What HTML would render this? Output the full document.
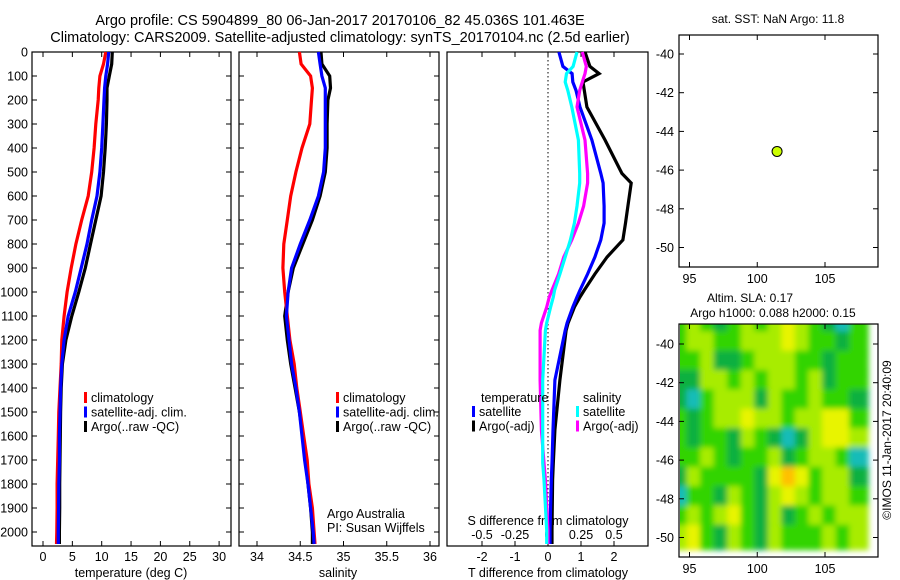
<!DOCTYPE html>
<html><head><meta charset="utf-8"><style>
body{margin:0;background:#fff;}
svg{display:block;font-family:"Liberation Sans",sans-serif;}
</style></head><body>
<svg id="chart" width="900" height="580" viewBox="0 0 900 580">
<text x="340" y="25" font-size="14.5" text-anchor="middle">Argo profile: CS 5904899_80 06-Jan-2017 20170106_82 45.036S 101.463E</text>
<text x="340" y="42" font-size="14.5" text-anchor="middle">Climatology: CARS2009. Satellite-adjusted climatology: synTS_20170104.nc (2.5d earlier)</text>
<g id="g"></g>
</svg>
<script>
// ---------- data ----------
const depthT=[0,50,100,150,200,300,400,500,600,700,800,900,1000,1100,1200,1300,1400,1500,1600,1700,1800,1900,2000,2050];
const tempClim=[10.7,10.3,9.7,9.5,9.4,9.0,8.7,8.3,7.7,6.6,5.6,4.8,4.1,3.6,3.2,3.1,2.9,2.7,2.6,2.5,2.4,2.4,2.35,2.3];
const tempSat=[11.2,11.0,10.7,10.5,10.4,10.2,10.0,9.7,9.2,8.3,7.5,6.5,5.5,4.3,3.6,3.2,3.0,2.9,2.8,2.8,2.7,2.65,2.6,2.6];
const tempArgo=[11.8,11.7,11.3,10.9,10.9,10.8,10.6,10.3,9.9,9.0,8.1,7.2,6.1,4.9,3.9,3.3,3.1,3.0,2.95,2.9,2.85,2.85,2.8,2.8];
const salClim=[34.49,34.51,34.62,34.64,34.63,34.61,34.52,34.45,34.39,34.35,34.31,34.30,34.32,34.35,34.38,34.43,34.46,34.5,34.54,34.58,34.6,34.64,34.66,34.67];
const salSat=[34.71,34.73,34.75,34.79,34.79,34.79,34.79,34.77,34.71,34.61,34.5,34.4,34.36,34.34,34.37,34.4,34.45,34.49,34.52,34.55,34.59,34.62,34.65,34.66];
const salArgo=[34.74,34.75,34.84,34.85,34.82,34.81,34.81,34.79,34.73,34.64,34.53,34.42,34.36,34.32,34.35,34.39,34.44,34.49,34.53,34.56,34.59,34.62,34.64,34.64];
const depthD=[0,60,90,125,160,229,367,506,546,642,713,783,854,925,992,1021,1063,1129,1160,1367,1575,1713,1783,1992,2050];
const dTsat=[0.33,0.45,0.73,0.75,0.85,0.97,1.33,1.6,1.67,1.7,1.7,1.6,1.42,1.2,0.97,0.88,0.75,0.58,0.52,0.21,0.15,0.12,0.1,0.06,0.06];
const dTargo=[1.12,1.27,1.55,1.06,1.1,1.18,1.73,2.24,2.52,2.42,2.35,2.27,1.79,1.42,1.1,0.97,0.8,0.61,0.55,0.36,0.21,0.16,0.14,0.12,0.12];
const dSsat=[0.22,0.19,0.14,0.13,0.15,0.18,0.23,0.24,0.24,0.22,0.2,0.17,0.13,0.09,0.05,0.04,0.02,-0.01,-0.02,-0.04,-0.04,-0.04,-0.03,-0.01,-0.01];
const dSargo=[0.26,0.29,0.28,0.26,0.24,0.22,0.28,0.3,0.3,0.27,0.23,0.18,0.12,0.08,0.03,0.01,-0.01,-0.05,-0.06,-0.06,-0.05,-0.03,-0.02,0,0];
const tempTicks=[0,5,10,15,20,25,30];
const salTicks=[34,34.5,35,35.5,36];
const tDiffTicks=[-2,-1,0,1,2];
const sDiffTicks=[-0.5,-0.25,0,0.25,0.5];
const depthTicks=[0,100,200,300,400,500,600,700,800,900,1000,1100,1200,1300,1400,1500,1600,1700,1800,1900,2000];
const latTicks=[-40,-42,-44,-46,-48,-50];
const lonTicks=[95,100,105];
const argoLon=101.463, argoLat=-45.036;
const slaGrid=[
[2,3,2,1,2,3,2,3,4,3,2,1,0,2],
[2,3,3,2,2,3,3,3,4,3,2,2,1,2],
[2,2,3,1,1,2,3,3,3,2,2,1,2,2],
[1,1,3,3,2,3,2,3,3,2,3,1,2,2],
[1,0,2,3,3,3,1,3,2,2,3,2,2,1],
[2,1,2,3,3,4,3,3,2,3,3,4,4,2],
[2,1,2,2,1,3,2,1,0,1,3,4,4,3],
[2,2,3,2,1,2,2,3,1,2,3,3,2,0],
[1,3,2,2,2,2,1,4,5,4,2,3,3,1],
[0,2,2,1,3,2,1,3,4,3,2,3,3,2],
[2,3,2,3,4,2,1,3,1,2,3,2,3,3],
[3,4,2,1,3,2,1,3,2,2,2,3,2,3]];
const slaColors=['#18bcb8','#10b040','#30d400','#a8ec00','#e8f400','#ffc000'];

// ---------- helpers ----------
const NS='http://www.w3.org/2000/svg';
const G=document.getElementById('g');
function mk(tag,at,parent){const e=document.createElementNS(NS,tag);for(const k in at)e.setAttribute(k,at[k]);(parent||G).appendChild(e);return e;}
function txt(x,y,s,anchor,size,parent){const t=mk('text',{x:x,y:y,'font-size':size||12.5,'text-anchor':anchor||'middle'},parent);t.textContent=s;return t;}
const yD=d=>52+d*0.24;
const pBot=546;

function panel(x0,x1,name){
  const r=mk('rect',{x:x0,y:52,width:x1-x0,height:pBot-52,fill:'#fff',stroke:'#000','stroke-width':1.2});
  
  
}
function line(xs,ds,fx,color,name){
  const pts=xs.map((v,i)=>fx(v).toFixed(1)+','+yD(ds[i]).toFixed(1)).join(' ');
  const p=mk('polyline',{points:pts,fill:'none',stroke:color,'stroke-width':3.2,'stroke-linejoin':'miter'});
  
  
}
function xTicks(ticks,fx,labelY,fmt,top){
  ticks.forEach(t=>{const x=fx(t);
    mk('line',{x1:x,x2:x,y1:pBot,y2:pBot-5,stroke:'#000'});
    if(top)mk('line',{x1:x,x2:x,y1:52,y2:57,stroke:'#000'});
    const l=txt(x,labelY,fmt?fmt(t):String(t));
    
    
  });
}
function legend(x,y,items){
  items.forEach((it,i)=>{
    mk('rect',{x:x,y:y+i*14.5-10,width:3,height:11,fill:it[1]});
    const l=txt(x+7,y+i*14.5,it[0],'start',12.5);
    
    
  });
}

// ---------- panel 1: temperature ----------
const fT=v=>43+v*5.87;
panel(32,231,'temperature-panel');
depthTicks.forEach(d=>{const y=yD(d);
  mk('line',{x1:32,x2:37,y1:y,y2:y,stroke:'#000'});mk('line',{x1:231,x2:226,y1:y,y2:y,stroke:'#000'});
  const l=txt(28,y+4.5,String(d),'end',12.5);
  
  
});
xTicks(tempTicks,fT,561,null,true);
line(tempArgo,depthT,fT,'#000','temp-argo-line');
line(tempClim,depthT,fT,'#ff0000','temp-clim-line');
line(tempSat,depthT,fT,'#0000ff','temp-sat-line');
const xl1=txt(131,577,'temperature (deg C)');
legend(84,402,[['climatology','#ff0000'],['satellite-adj. clim.','#0000ff'],['Argo(..raw -QC)','#000']]);

// ---------- panel 2: salinity ----------
const fS=v=>257+(v-34)*86.5;
panel(239,439,'salinity-panel');
depthTicks.forEach(d=>{const y=yD(d);
  mk('line',{x1:239,x2:244,y1:y,y2:y,stroke:'#000'});mk('line',{x1:439,x2:434,y1:y,y2:y,stroke:'#000'});});
xTicks(salTicks,fS,561,null,true);
line(salArgo,depthT,fS,'#000','sal-argo-line');
line(salClim,depthT,fS,'#ff0000','sal-clim-line');
line(salSat,depthT,fS,'#0000ff','sal-sat-line');
const xl2=txt(338,577,'salinity');
legend(336,402,[['climatology','#ff0000'],['satellite-adj. clim.','#0000ff'],['Argo(..raw -QC)','#000']]);
txt(327,518,'Argo Australia','start');
txt(327,532,'PI: Susan Wijffels','start');

// ---------- panel 3: differences ----------
const fDT=v=>548+v*33;
const fDS=v=>548+v*132;
panel(447,648,'difference-panel');
mk('line',{x1:548,x2:548,y1:52,y2:pBot,stroke:'#000','stroke-dasharray':'1.5,2.5'});
xTicks(tDiffTicks,fDT,561,null,true);
sDiffTicks.forEach(t=>{const l=txt(fDS(t),539,String(t));
  
  });
txt(548,525,'S difference from climatology');
const xl3=txt(548,577,'T difference from climatology');
line(dTargo,depthD,fDT,'#000','dT-argo-line');
line(dTsat,depthD,fDT,'#0000ff','dT-sat-line');
line(dSargo,depthD,fDS,'#ff00ff','dS-argo-line');
line(dSsat,depthD,fDS,'#00ffff','dS-sat-line');
txt(481,402,'temperature','start');
legend(472,416,[['satellite','#0000ff'],['Argo(-adj)','#000']]);
txt(583,402,'salinity','start');
legend(576,416,[['satellite','#00ffff'],['Argo(-adj)','#ff00ff']]);

// ---------- maps ----------
const fLon=v=>689.5+(v-95)*13.55;
function mapAxes(top,bot,lat40y){
  const fLat=v=>lat40y+(-40-v)*19.35;
  mk('rect',{x:679,y:top,width:199,height:bot-top,fill:'none',stroke:'#000','stroke-width':1.2});
  latTicks.forEach(t=>{const y=fLat(t);
    mk('line',{x1:679,x2:684,y1:y,y2:y,stroke:'#000'});mk('line',{x1:878,x2:873,y1:y,y2:y,stroke:'#000'});
    const l=txt(674,y+4.5,String(t),'end',12.5);
    
    });
  lonTicks.forEach(t=>{const x=fLon(t);
    mk('line',{x1:x,x2:x,y1:bot,y2:bot-5,stroke:'#000'});mk('line',{x1:x,x2:x,y1:top,y2:top+5,stroke:'#000'});
    const l=txt(x,bot+16,String(t));
    
    });
  return fLat;
}
const fLat2=v=>344+(-40-v)*19.35;
const defs=mk('defs',{});
const cp=mk('clipPath',{id:'mc'},defs);mk('rect',{x:680,y:324,width:198,height:233},cp);
const fl=mk('filter',{id:'bl',x:'-10%',y:'-10%',width:'120%',height:'120%'},defs);mk('feGaussianBlur',{stdDeviation:'3'},fl);
const hg=mk('g',{'clip-path':'url(#mc)'});
const hb=mk('g',{filter:'url(#bl)'},hg);
slaGrid.forEach((row,r)=>row.forEach((v,c)=>{
  const x0=fLon(94.5+c-0.5), y0=fLat2(-38.5-r);
  const cell=mk('rect',{x:x0-3,y:y0-3,width:fLon(1)-fLon(0)+6,height:19.35+6,fill:slaColors[v]},hb);
  
  
}));
mapAxes(324,557,344);
const fLat1=mapAxes(35,267,54);
const dot=mk('circle',{cx:fLon(argoLon),cy:fLat1(argoLat),r:5,fill:'#ccff00',stroke:'#000','stroke-width':1});


txt(778,23,'sat. SST: NaN Argo: 11.8','middle',12);
txt(750,302,'Altim. SLA: 0.17','middle',12);
txt(773,317,'Argo h1000: 0.088 h2000: 0.15','middle',12);
const cr=txt(0,0,'©IMOS 11-Jan-2017 20:40:09','middle',12);
cr.setAttribute('transform','translate(891,440) rotate(-90)');


</script>
</body></html>
